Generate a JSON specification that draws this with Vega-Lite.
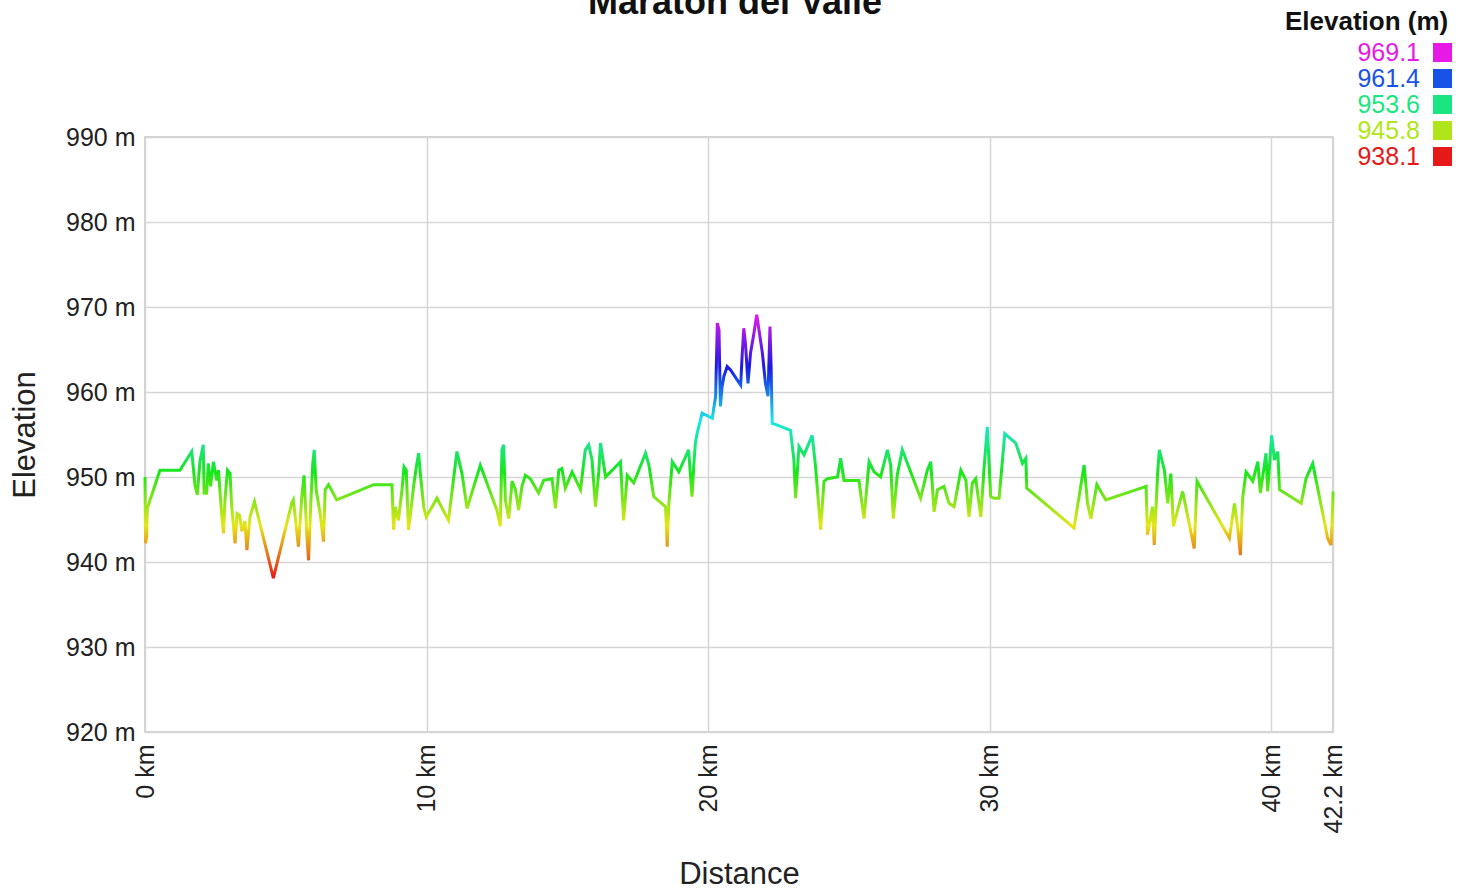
{
"$schema": "https://vega.github.io/schema/vega-lite/v6.json",
"width": 1188, "height": 595,
"autosize": {"type": "none"},
"padding": {"left": 145, "top": 137, "right": 134, "bottom": 158},
"background": "white",
"title": {"text": "Maraton del Valle", "fontSize": 36, "font": "Liberation Sans", "fontWeight": "bold", "color": "#111", "offset": -13, "anchor": "middle", "dx": -4},
"data": {"values": [
{"d":0,"e":950},{"d":0.02,"e":942.2},{"d":0.06,"e":943.0},{"d":0.08,"e":946.3},{"d":0.53,"e":950.8},{"d":1.24,"e":950.8},{"d":1.66,"e":953.0},{"d":1.78,"e":948.9},{"d":1.86,"e":947.9},{"d":1.95,"e":951.8},{"d":2.07,"e":953.8},{"d":2.1,"e":948.1},{"d":2.19,"e":948.1},{"d":2.25,"e":951.6},{"d":2.33,"e":948.9},{"d":2.43,"e":951.8},{"d":2.55,"e":949.6},{"d":2.61,"e":950.8},{"d":2.73,"e":945.3},{"d":2.79,"e":943.4},{"d":2.84,"e":947.3},{"d":2.93,"e":950.8},{"d":3.02,"e":950.4},{"d":3.08,"e":946.5},{"d":3.2,"e":942.2},{"d":3.27,"e":945.7},{"d":3.36,"e":945.5},{"d":3.44,"e":943.6},{"d":3.55,"e":944.8},{"d":3.62,"e":941.4},{"d":3.73,"e":945.3},{"d":3.89,"e":947.1},{"d":4.56,"e":938.1},{"d":5.21,"e":946.9},{"d":5.27,"e":947.3},{"d":5.45,"e":941.8},{"d":5.57,"e":947.7},{"d":5.65,"e":950.2},{"d":5.75,"e":943.0},{"d":5.81,"e":940.2},{"d":5.89,"e":946.9},{"d":5.96,"e":951.6},{"d":6.01,"e":953.2},{"d":6.08,"e":948.5},{"d":6.22,"e":945.7},{"d":6.34,"e":942.4},{"d":6.4,"e":948.5},{"d":6.52,"e":949.1},{"d":6.81,"e":947.3},
{"d":8.12,"e":949.1},{"d":8.77,"e":949.1},{"d":8.83,"e":943.8},{"d":8.89,"e":946.5},{"d":9.0,"e":944.9},{"d":9.13,"e":948.5},{"d":9.2,"e":951.2},{"d":9.28,"e":950.8},{"d":9.36,"e":943.8},{"d":9.42,"e":945.3},{"d":9.54,"e":948.9},{"d":9.64,"e":951.2},{"d":9.72,"e":952.8},{"d":9.78,"e":950.4},{"d":9.9,"e":946.5},{"d":9.99,"e":945.3},{"d":10.37,"e":947.5},{"d":10.78,"e":944.9},{"d":11.08,"e":953.0},{"d":11.26,"e":950.4},{"d":11.44,"e":946.3},{"d":11.91,"e":951.4},{"d":12.5,"e":946.1},{"d":12.62,"e":944.2},{"d":12.68,"e":953.2},{"d":12.74,"e":953.8},{"d":12.8,"e":947.3},{"d":12.92,"e":945.1},{"d":13.04,"e":949.5},{"d":13.16,"e":948.5},{"d":13.27,"e":946.1},{"d":13.39,"e":948.9},
{"d":13.51,"e":950.2},{"d":13.69,"e":949.8},{"d":13.98,"e":948.1},{"d":14.16,"e":949.6},{"d":14.46,"e":949.8},{"d":14.58,"e":946.3},{"d":14.7,"e":950.8},{"d":14.81,"e":951.0},{"d":14.93,"e":948.7},{"d":15.17,"e":950.6},{"d":15.47,"e":948.5},{"d":15.64,"e":953.2},{"d":15.76,"e":953.8},{"d":15.88,"e":952.0},{"d":16.0,"e":946.5},{"d":16.12,"e":950.6},{"d":16.18,"e":954.0},{"d":16.27,"e":952.0},{"d":16.36,"e":950.0},{"d":16.89,"e":951.8},{"d":17.0,"e":944.9},{"d":17.13,"e":950.2},{"d":17.36,"e":949.3},{"d":17.78,"e":952.8},{"d":17.9,"e":951.4},{"d":18.07,"e":947.7},{"d":18.49,"e":946.5},{"d":18.55,"e":941.8},{"d":18.61,"e":946.9},{"d":18.73,"e":951.8},{"d":18.96,"e":950.6},{"d":19.31,"e":953.2},{"d":19.43,"e":947.7},{"d":19.49,"e":951.2},{"d":19.55,"e":954.0},{"d":19.61,"e":955.1},{"d":19.79,"e":957.5},
{"d":20.15,"e":956.9},{"d":20.27,"e":959.5},{"d":20.33,"e":968.1},{"d":20.39,"e":967.3},{"d":20.44,"e":958.3},{"d":20.5,"e":960.6},{"d":20.56,"e":961.8},{"d":20.68,"e":963.0},{"d":20.8,"e":962.6},{"d":21.04,"e":961.4},{"d":21.16,"e":960.8},{"d":21.21,"e":964.2},{"d":21.27,"e":967.5},{"d":21.33,"e":965.7},{"d":21.42,"e":961.0},{"d":21.51,"e":964.6},{"d":21.63,"e":966.9},{"d":21.73,"e":969.1},{"d":21.81,"e":967.3},{"d":21.93,"e":964.6},{"d":22.04,"e":961.0},{"d":22.13,"e":959.5},{"d":22.2,"e":967.7},{"d":22.24,"e":963.0},{"d":22.28,"e":956.3},{"d":22.46,"e":956.1},{"d":22.93,"e":955.5},
{"d":23.05,"e":952.0},{"d":23.11,"e":947.5},{"d":23.23,"e":953.6},{"d":23.41,"e":952.6},{"d":23.7,"e":954.9},{"d":23.82,"e":951.2},{"d":24.0,"e":943.8},{"d":24.12,"e":949.5},{"d":24.24,"e":949.8},{"d":24.6,"e":950.0},{"d":24.71,"e":952.2},{"d":24.83,"e":949.6},{"d":25.07,"e":949.6},{"d":25.36,"e":949.6},{"d":25.54,"e":945.1},{"d":25.72,"e":951.8},{"d":25.9,"e":950.6},{"d":26.13,"e":950.0},{"d":26.37,"e":953.2},{"d":26.49,"e":951.4},{"d":26.58,"e":945.1},{"d":26.72,"e":950.2},{"d":26.9,"e":953.2},{"d":27.55,"e":947.5},{"d":27.79,"e":950.8},{"d":27.91,"e":951.8},{"d":28.03,"e":945.9},{"d":28.15,"e":948.5},{"d":28.38,"e":948.9},{"d":28.56,"e":946.9},{"d":28.74,"e":946.5},{"d":28.98,"e":950.8},{"d":29.16,"e":949.6},{"d":29.27,"e":945.3},{"d":29.39,"e":949.3},{"d":29.51,"e":949.8},{"d":29.69,"e":945.3},{"d":29.8,"e":950.8},{"d":29.92,"e":955.9},{"d":30.04,"e":947.7},
{"d":30.16,"e":947.5},{"d":30.34,"e":947.5},{"d":30.54,"e":955.1},{"d":30.93,"e":954.0},{"d":31.17,"e":951.6},{"d":31.29,"e":952.2},{"d":31.32,"e":948.7},{"d":33.0,"e":944.0},{"d":33.36,"e":951.4},{"d":33.48,"e":946.9},{"d":33.6,"e":945.1},{"d":33.81,"e":949.1},{"d":34.13,"e":947.3},{"d":35.38,"e":948.7},
{"d":35.56,"e":948.9},{"d":35.61,"e":943.2},{"d":35.79,"e":946.5},{"d":35.85,"e":942.0},{"d":35.97,"e":950.4},{"d":36.03,"e":953.2},{"d":36.21,"e":950.8},{"d":36.33,"e":946.9},{"d":36.44,"e":950.4},{"d":36.53,"e":944.2},{"d":36.68,"e":946.1},{"d":36.86,"e":948.3},{"d":37.27,"e":941.6},{"d":37.37,"e":949.5},{"d":38.52,"e":942.8},{"d":38.7,"e":946.9},{"d":38.81,"e":944.2},{"d":38.91,"e":940.8},{"d":38.99,"e":947.5},{"d":39.11,"e":950.6},{"d":39.35,"e":949.5},{"d":39.53,"e":951.8},{"d":39.62,"e":948.1},{"d":39.71,"e":950.2},{"d":39.82,"e":952.8},{"d":39.88,"e":948.3},{"d":40.02,"e":954.9},{"d":40.12,"e":952.0},{"d":40.24,"e":953.0},{"d":40.3,"e":948.5},{"d":41.07,"e":946.9},{"d":41.24,"e":949.8},{"d":41.48,"e":951.6},{"d":42.01,"e":942.8},{"d":42.13,"e":942.0},{"d":42.19,"e":946.5},{"d":42.2,"e":948.3}
]},
"encoding": {
  "x": {"field": "d", "type": "quantitative", "scale": {"domain": [0, 42.2], "nice": false, "zero": false},
    "axis": {"values": [0, 10, 20, 30, 40, 42.2], "labelExpr": "datum.value + ' km'", "labelAngle": -90, "labelAlign": "right", "labelBaseline": "middle", "labelPadding": 12, "title": "Distance", "titlePadding": 27, "titleFontSize": 31}},
  "y": {"field": "e", "type": "quantitative", "scale": {"domain": [920, 990], "nice": false, "zero": false},
    "axis": {"values": [920, 930, 940, 950, 960, 970, 980, 990], "labelExpr": "datum.value + ' m'", "labelPadding": 10, "title": "Elevation", "titlePadding": 24, "titleFontSize": 31}}
},
"layer": [
  {"mark": {"type": "line", "strokeWidth": 3, "strokeJoin": "miter", "color": {"gradient": "linear", "x1": 0, "y1": 1, "x2": 0, "y2": 0, "stops": [
    {"offset": 0, "color": "#e61919"}, {"offset": 0.2, "color": "#e6e619"}, {"offset": 0.4, "color": "#19e619"}, {"offset": 0.6, "color": "#19e6e6"}, {"offset": 0.8, "color": "#1919e6"}, {"offset": 1, "color": "#e619e6"}]}}},
  {"mark": {"type": "square", "opacity": 0},
   "encoding": {
     "color": {"field": "e", "type": "quantitative",
       "scale": {"domain": [938.1, 945.8, 953.6, 961.4, 969.1], "range": ["#e61919", "#b0e619", "#19e680", "#1952e6", "#e619e6"]},
       "legend": {"type": "symbol", "values": [969.1, 961.4, 953.6, 945.8, 938.1], "format": ".1f", "title": "Elevation (m)", "orient": "none", "legendX": 1140, "legendY": -128,
         "symbolType": "square", "symbolSize": 361, "symbolOpacity": 1, "symbolStrokeWidth": 0, "symbolOffset": 145,
         "labelFontSize": 25, "labelAlign": "right", "labelOffset": -35, "labelFont": "Liberation Sans",
         "titleFont": "Liberation Sans", "titleFontSize": 26, "titleFontWeight": "bold", "titleColor": "#111", "titleAnchor": "start", "rowPadding": 0,
         "encode": {"labels": {"update": {"fill": {"signal": "scale('color', datum.value)"}}},
                    "symbols": {"update": {"fill": {"signal": "scale('color', datum.value)"}, "opacity": {"value": 1}}}}}}
   }}
],
"config": {
  "view": {"stroke": "#c4c4c4", "strokeWidth": 1.5},
  "axis": {"labelFont": "Liberation Sans", "titleFont": "Liberation Sans", "labelFontSize": 25, "titleFontWeight": "normal", "labelColor": "#222", "titleColor": "#222", "gridColor": "#d6d6d6", "gridWidth": 1.5, "ticks": false, "domain": false}
}
}
